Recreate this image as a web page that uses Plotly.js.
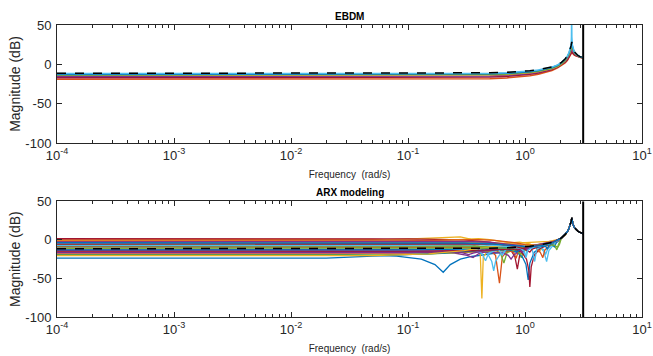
<!DOCTYPE html>
<html><head><meta charset="utf-8">
<script src="https://cdn.plot.ly/plotly-3.0.1.min.js"></script>
<style>html,body{margin:0;padding:0;background:#fff}#chart{width:653px;height:356px}</style>
</head><body><div id="chart"></div>
<script>
// ---------- axes / labels ----------
const xTickVals = [1e-4, 1e-3, 1e-2, 1e-1, 1, 10];
const xTickText = ['10<sup>-4</sup>', '10<sup>-3</sup>', '10<sup>-2</sup>', '10<sup>-1</sup>', '10<sup>0</sup>', '10<sup>1</sup>'];
const yTickVals = [-100, -50, 0, 50];
const yTickText = ['-100', '-50', '0', '50'];
const xRange = [1e-4, 10];
const yRange = [-100, 50];
const nyquistFreq = 3.1416;
const seriesColors = ['#0072BD', '#D95319', '#EDB120', '#7E2F8E', '#77AC30', '#4DBEEE', '#A2142F'];

// ---------- true system (dashed) ----------
const trueF  = [1e-4, 0.01, 0.1, 0.3, 0.5, 0.7, 0.9, 1.1, 1.3, 1.5, 1.7, 1.9, 2.05, 2.2, 2.3, 2.38, 2.44, 2.48, 2.51, 2.54, 2.58, 2.64, 2.72, 2.82, 2.95, 3.05, 3.1416];
const trueDb = [-11.5, -11.5, -11.4, -11.2, -10.8, -10.2, -9.3, -8.2, -6.9, -5.3, -3.2, -0.4, 2.6, 6.8, 10.5, 15, 19.5, 24, 28.5, 24, 19.5, 16, 13.5, 11.5, 9.8, 9, 8.3];

// ---------- EBDM estimates ----------
const ebdmF = [1e-4, 0.1, 0.3, 0.5, 0.7, 0.9, 1.1, 1.3, 1.5, 1.7, 1.9, 2.05, 2.2, 2.3, 2.38, 2.44, 2.48, 2.51, 2.54, 2.58, 2.64, 2.72, 2.82, 2.95, 3.05, 3.1416];
const ebdmOrange = [-19, -19, -18.7, -18.2, -17.3, -16, -14.4, -12.6, -10.4, -7.8, -4.6, -1.8, 1.8, 4.8, 8, 11, 13.5, 15, 14, 12.8, 11.8, 10.8, 9.8, 8.8, 8.3, 7.9];
const ebdmDarkRed = [-17, -17, -16.7, -16.2, -15.4, -14.2, -12.7, -11, -9, -6.6, -3.6, -0.8, 2.8, 5.8, 9, 12, 14.5, 16, 15, 13.6, 12.4, 11.2, 10, 9, 8.4, 8];
const ebdmPurple = [-15.5, -15.5, -15.2, -14.8, -14, -12.9, -11.6, -10, -8.2, -5.9, -3, 0, 3.8, 7.2, 11, 14.5, 17.5, 20, 18, 15.8, 13.6, 11.9, 10.5, 9.3, 8.6, 8.1];
const ebdmYellow = [-14, -14, -13.8, -13.4, -12.8, -11.8, -10.6, -9.2, -7.5, -5.3, -2.4, 0.6, 4.6, 8.3, 12.5, 16.5, 20.5, 24, 20.5, 17.5, 14.8, 12.7, 11, 9.5, 8.7, 8.1];
const ebdmGreen = [-13.5, -13.5, -13.3, -12.9, -12.3, -11.3, -10.2, -8.8, -7.1, -5, -2.1, 0.9, 5, 8.8, 13, 17.2, 21.5, 25.5, 21.5, 18, 15.2, 12.9, 11.1, 9.6, 8.8, 8.2];
const ebdmBlue = [-12.8, -12.7, -12.5, -12.1, -11.5, -10.6, -9.4, -8, -6.3, -4.1, -1.2, 1.8, 6, 9.8, 14.3, 18.8, 23.3, 27.5, 23.3, 19, 15.6, 13.2, 11.3, 9.7, 8.9, 8.2];
const ebdmLightBlueF = [1e-4, 0.1, 0.3, 0.5, 0.7, 0.9, 1.1, 1.3, 1.5, 1.7, 1.9, 2.05, 2.2, 2.3, 2.38, 2.44, 2.48, 2.495, 2.505, 2.515, 2.54, 2.58, 2.64, 2.72, 2.82, 2.95, 3.05, 3.1416];
const ebdmLightBlue = [-11.8, -11.8, -11.6, -11.2, -10.6, -9.7, -8.5, -7.2, -5.6, -3.5, -0.7, 2.4, 6.6, 10.4, 15, 19.5, 25, 35, 62, 35, 24, 19.5, 16, 13.5, 11.5, 9.8, 9, 8.3];

// ---------- ARX estimates: [frequency, dB] up to ~2 rad/s ----------
const arx01 = [[1e-4,-19],[0.03,-19.2],[0.08,-21],[0.13,-25],[0.17,-32],[0.2,-42],[0.23,-32],[0.28,-25],[0.35,-21.5],[0.45,-19.5],[0.6,-17],[0.8,-14],[1.0,-11.5],[1.3,-8.5],[1.6,-5],[1.9,-1]];
const arx02 = [[1e-4,1],[0.05,0.8],[0.12,-0.5],[0.2,-2.5],[0.3,-5],[0.4,-8],[0.5,-13],[0.56,-20],[0.605,-56],[0.64,-22],[0.72,-13],[0.85,-9],[1.0,-8],[1.3,-6],[1.6,-3.5],[1.9,-0.5]];
const arx03 = [[1e-4,-0.5],[0.05,-0.3],[0.12,1.5],[0.2,3.5],[0.28,4],[0.34,1],[0.39,-8],[0.415,-20],[0.428,-76],[0.44,-22],[0.5,-11],[0.6,-6],[0.75,-4],[1.0,-3.5],[1.3,-3],[1.6,-2],[1.9,0.5]];
const arx04 = [[1e-4,-14],[0.05,-14.2],[0.15,-15],[0.25,-17],[0.32,-20],[0.36,-23],[0.4,-18],[0.5,-14],[0.65,-12],[0.8,-11],[1.0,-10],[1.3,-8],[1.6,-5],[1.9,-1]];
const arx05 = [[1e-4,-6],[0.1,-6.2],[0.3,-7.5],[0.45,-9],[0.55,-12],[0.62,-18],[0.66,-30],[0.7,-17],[0.8,-12],[0.88,-14],[0.93,-23],[0.98,-15],[1.1,-10],[1.3,-8],[1.6,-5],[1.9,-1.5]];
const arx06 = [[1e-4,-3],[0.1,-3.2],[0.25,-5],[0.35,-8],[0.42,-11],[0.48,-18],[0.52,-28],[0.54,-40],[0.56,-28],[0.62,-17],[0.75,-11],[0.9,-9],[1.1,-8],[1.35,-10],[1.45,-15],[1.53,-28],[1.6,-14],[1.8,-4]];
const arx07 = [[1e-4,1.5],[0.1,1.3],[0.3,0],[0.5,-3],[0.65,-7],[0.75,-12],[0.82,-22],[0.86,-38],[0.9,-20],[1.0,-12],[1.2,-9],[1.5,-5],[1.8,-1.5]];
const arx08 = [[1e-4,-8.5],[0.1,-8.6],[0.3,-9.5],[0.5,-11],[0.7,-13],[0.85,-16],[0.95,-22],[1.02,-32],[1.065,-52],[1.1,-30],[1.2,-16],[1.4,-9],[1.7,-4]];
const arx09 = [[1e-4,-17],[0.1,-17],[0.3,-16],[0.5,-14.5],[0.7,-13.5],[0.8,-16],[0.84,-24],[0.87,-16],[1.0,-12],[1.2,-10],[1.5,-6],[1.8,-2]];
const arx10 = [[1e-4,-2],[0.1,-1.8],[0.2,-0.5],[0.3,1],[0.4,1.5],[0.5,0.5],[0.6,-1.5],[0.75,-4],[0.9,-3],[1.1,-5],[1.25,-10],[1.32,-16],[1.4,-9],[1.6,-4],[1.9,-0.5]];
const arx11 = [[1e-4,-12],[0.1,-12.3],[0.25,-13.5],[0.4,-15],[0.55,-16],[0.65,-17],[0.72,-20],[0.76,-25],[0.8,-20],[0.9,-14],[1.1,-11],[1.4,-7.5],[1.7,-4]];
const arx12 = [[1e-4,-19.6],[0.05,-19.5],[0.15,-18.5],[0.3,-16],[0.45,-14],[0.6,-13],[0.75,-12.5],[0.85,-14],[0.92,-19],[0.97,-14],[1.1,-11],[1.35,-8],[1.6,-6],[1.8,-8],[1.87,-13],[1.93,-6]];
const arx13 = [[1e-4,-10],[0.1,-10.2],[0.2,-11],[0.3,-12],[0.38,-14],[0.43,-18],[0.46,-27],[0.49,-17],[0.6,-12],[0.8,-10],[0.95,-12],[1.0,-23],[1.05,-11],[1.2,-8],[1.35,-9],[1.45,-13],[1.5,-19],[1.56,-12],[1.8,-3]];
const arx14 = [[1e-4,-16],[0.1,-16],[0.3,-15],[0.5,-13],[0.7,-12],[0.85,-13],[0.95,-17],[1.03,-25],[1.08,-40],[1.1,-61],[1.13,-35],[1.2,-20],[1.35,-11],[1.6,-6],[1.9,-1]];
const arx15 = [[1e-4,-23.5],[0.02,-23.5],[0.05,-21],[0.12,-19],[0.2,-17],[0.3,-14.5],[0.45,-13],[0.6,-12.5],[0.75,-13],[0.85,-15],[0.95,-12],[1.2,-9],[1.5,-6.5],[1.7,-5],[1.78,-9],[1.85,-4]];
const arx16 = [[1e-4,-9],[0.1,-9],[0.3,-9.5],[0.5,-10.5],[0.7,-11],[0.9,-10],[1.1,-9],[1.25,-10],[1.35,-16],[1.42,-23],[1.48,-13],[1.7,-5]];
const arx17 = [[1e-4,-4],[0.1,-3.8],[0.3,-3],[0.5,-3.5],[0.7,-5],[0.9,-6],[1.1,-6.5],[1.3,-6],[1.6,-4],[1.9,-0.5]];
const arx18 = [[1e-4,-16.5],[0.1,-16.3],[0.2,-15],[0.28,-16],[0.33,-19],[0.36,-17],[0.45,-14],[0.6,-12],[0.8,-11],[0.9,-12.5],[0.95,-16],[1.0,-12],[1.3,-8],[1.6,-5],[1.9,-1.5]];
const arx19 = [[1e-4,-7.5],[0.1,-7.5],[0.3,-8],[0.5,-8.5],[0.65,-9],[0.75,-11],[0.8,-14],[0.85,-10],[1.0,-8],[1.3,-7],[1.6,-6],[1.8,-7],[1.9,-10],[1.97,-6]];
const arx20 = [[1e-4,-4.5],[0.1,-4.5],[0.3,-5],[0.45,-6.5],[0.55,-9],[0.6,-13],[0.64,-20],[0.68,-13],[0.8,-8],[1.0,-7],[1.15,-12],[1.21,-28],[1.26,-12],[1.5,-6],[1.8,-2.5]];
const arx21 = [[1e-4,-14.5],[0.1,-14.5],[0.3,-14],[0.5,-13],[0.7,-12],[0.85,-11.5],[1.0,-12],[1.1,-16],[1.15,-12],[1.3,-9],[1.6,-5]];
const arx22 = [[1e-4,-13],[0.1,-13],[0.3,-12],[0.5,-11],[0.7,-10.5],[0.9,-10],[1.1,-10],[1.3,-9],[1.5,-8],[1.55,-12],[1.6,-7],[1.9,-1]];
const arx23 = [[1e-4,-1.5],[0.1,-1.2],[0.25,0],[0.4,0.5],[0.55,-0.5],[0.7,-2],[0.85,-4],[1.0,-6],[1.2,-7],[1.4,-6],[1.6,-4],[1.9,-1]];
const arx24 = [[1e-4,-20.5],[0.05,-20.3],[0.15,-18],[0.3,-14],[0.4,-11],[0.5,-9],[0.65,-8],[0.8,-8],[1.0,-8.5],[1.3,-8],[1.6,-5],[1.9,-1]];
const arx25 = [[1e-4,-2.5],[0.1,-2.5],[0.3,-2],[0.5,-3],[0.7,-5],[0.9,-7],[1.0,-9],[1.05,-14],[1.1,-8],[1.3,-6],[1.6,-4],[1.9,-1]];
const arx26 = [[1e-4,-11],[0.1,-11],[0.3,-11.2],[0.5,-11],[0.7,-10.5],[0.9,-10],[1.2,-8],[1.5,-5.5],[1.8,-2]];
const arx27 = [[1e-4,-7],[0.1,-7],[0.3,-6],[0.45,-6],[0.55,-7],[0.7,-9],[0.9,-10.5],[0.98,-14],[1.02,-23],[1.06,-13],[1.2,-9],[1.5,-6],[1.8,-3]];
const arx28 = [[1e-4,-5.5],[0.1,-5.5],[0.3,-5],[0.5,-5],[0.65,-6],[0.8,-8],[0.95,-11],[1.05,-10],[1.25,-8],[1.5,-5.5],[1.8,-2]];
const arx29 = [[1e-4,-3.5],[0.1,-3.5],[0.3,-4],[0.5,-5],[0.7,-6.5],[0.9,-8],[1.1,-9],[1.4,-7],[1.7,-4]];
// all ARX curves coincide near the resonance
const arxTailF  = [2.05, 2.2, 2.3, 2.38, 2.44, 2.48, 2.51, 2.54, 2.58, 2.64, 2.72, 2.82, 2.95, 3.05, 3.1416];
const arxTailDb = [2.6, 6.8, 10.5, 15, 19.5, 24, 28.5, 24, 19.5, 16, 13.5, 11.5, 9.8, 9, 8.3];

const arxSeries = [arx01, arx02, arx03, arx04, arx05, arx06, arx07, arx08, arx09, arx10, arx11, arx12, arx13, arx14, arx15,
                   arx16, arx17, arx18, arx19, arx20, arx21, arx22, arx23, arx24, arx25, arx26, arx27, arx28, arx29];
const ebdmSeries = [ebdmBlue, ebdmOrange, ebdmYellow, ebdmPurple, ebdmGreen, null, ebdmDarkRed];

// ---------- traces ----------
const traces = [];
function line(x, y, color, width, xa, ya, dash) {
  return {type: 'scatter', mode: 'lines', x: x, y: y, xaxis: xa, yaxis: ya,
          line: {color: color, width: width, dash: dash || 'solid'}, hoverinfo: 'skip', showlegend: false};
}
// EBDM (top)
const ebdmOrder = [1, 6, 3, 2, 4, 0];
ebdmOrder.forEach(ci => traces.push(line(ebdmF, ebdmSeries[ci], seriesColors[ci], 1.5, 'x', 'y')));
traces.push(line(ebdmLightBlueF, ebdmLightBlue, seriesColors[5], 1.5, 'x', 'y'));
traces.push(line(trueF, trueDb, '#000000', 1.5, 'x', 'y', 'dash'));
traces.push(line([nyquistFreq, nyquistFreq], yRange, '#000000', 2, 'x', 'y'));
// ARX (bottom)
arxSeries.forEach((s, i) => {
  const xs = s.map(p => p[0]).concat(arxTailF);
  const ys = s.map(p => p[1]).concat(arxTailDb);
  traces.push(line(xs, ys, seriesColors[i % 7], 1.3, 'x2', 'y2'));
});
traces.push(line(trueF, trueDb, '#000000', 1.5, 'x2', 'y2', 'dash'));
traces.push(line([nyquistFreq, nyquistFreq], yRange, '#000000', 2, 'x2', 'y2'));

// ---------- layout ----------
const minorVals = [];
for (let d = -4; d <= 0; d++) for (let k = 2; k <= 9; k++) minorVals.push(k * Math.pow(10, d));
const FONT = 'Liberation Sans, Arial, Helvetica, sans-serif';
const AX = '#262626';
function xAxis(anchor) {
  return {type: 'log', range: xRange.map(Math.log10), anchor: anchor,
    tickmode: 'array', tickvals: xTickVals, ticktext: xTickText,
    ticks: 'inside', ticklen: 5, tickwidth: 1, tickcolor: AX,
    minor: {tickmode: 'array', tickvals: minorVals, ticks: 'inside', ticklen: 3, tickcolor: AX, showgrid: false},
    showline: true, linecolor: AX, linewidth: 1, mirror: 'allticks',
    showgrid: false, zeroline: false, ticklabelstandoff: 0,
    tickfont: {family: FONT, size: 13, color: AX},
    title: {text: 'Frequency\u00a0 (rad/s)', font: {family: FONT, size: 10, color: AX}, standoff: 9}};
}
function yAxis(anchor, domain) {
  return {range: yRange, anchor: anchor, domain: domain,
    tickmode: 'array', tickvals: yTickVals, ticktext: yTickText,
    ticks: 'inside', ticklen: 5, tickwidth: 1, tickcolor: AX,
    showline: true, linecolor: AX, linewidth: 1, mirror: 'allticks',
    showgrid: false, zeroline: false, ticklabelstandoff: 2,
    tickfont: {family: FONT, size: 13, color: AX},
    title: {text: 'Magnitude (dB)', font: {family: FONT, size: 14, color: AX}, standoff: 1}};
}
const layout = {
  width: 653, height: 356,
  margin: {l: 57, r: 11, t: 25, b: 39},
  paper_bgcolor: '#ffffff', plot_bgcolor: '#ffffff',
  showlegend: false,
  xaxis: xAxis('y'), yaxis: yAxis('x', [0.596, 1]),
  xaxis2: xAxis('y2'), yaxis2: yAxis('x2', [0, 0.396]),
  annotations: [
    {text: '<b>EBDM</b>', xref: 'paper', yref: 'paper', x: 0.5, y: 1.028, xanchor: 'center', yanchor: 'middle',
     showarrow: false, font: {family: FONT, size: 10, color: '#000'}},
    {text: '<b>ARX modeling</b>', xref: 'paper', yref: 'paper', x: 0.5, y: 0.4257, xanchor: 'center', yanchor: 'middle',
     showarrow: false, font: {family: FONT, size: 10, color: '#000'}}
  ]
};
Plotly.newPlot('chart', traces, layout, {staticPlot: true, displayModeBar: false});
</script>
</body></html>
